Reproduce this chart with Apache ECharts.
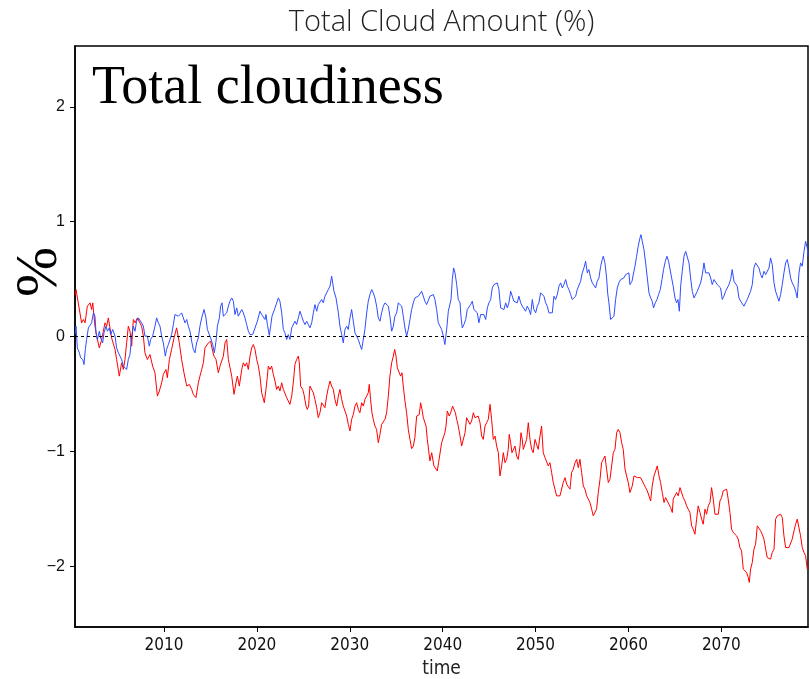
<!DOCTYPE html>
<html>
<head>
<meta charset="utf-8">
<script src="https://cdn.jsdelivr.net/npm/echarts@6/dist/echarts.min.js"></script>
<style>
html,body{margin:0;padding:0;background:#fff;}
#chart{width:810px;height:679px;}
</style>
</head>
<body>
<div id="chart"></div>
<script>
// ---- data: [year, anomaly %] ----
const titleText = 'Total Cloud Amount (%)';
const panelLabel = 'Total cloudiness';
const unitLabel = '%';
const xAxisName = 'time';
const xTicks = [2010, 2020, 2030, 2040, 2050, 2060, 2070];
const yTicks = [-2, -1, 0, 1, 2];

const redData = [
[2000.44,0.36],[2000.53,0.409],[2000.67,0.414],[2001.13,0.119],[2001.32,0.148],[2001.50,0.119],[2001.75,0.264],[2002.04,0.293],[2002.21,0.235],[2002.33,0.293],[2002.57,0.090],[2002.75,0.003],[2003.04,-0.099],[2003.29,-0.026],[2003.47,0.046],[2003.65,0.119],[2003.83,0.090],[2004.01,0.162],[2004.19,0.171],[2004.36,-0.012],[2004.73,-0.113],[2004.90,-0.200],[2005.19,-0.345],[2005.44,-0.229],[2005.63,-0.287],[2005.80,-0.200],[2005.98,-0.055],[2006.16,0.090],[2006.34,0.046],[2006.52,-0.084],[2006.70,0.148],[2006.88,0.119],[2007.14,0.162],[2007.35,0.148],[2007.59,0.090],[2007.78,0.003],[2007.95,-0.142],[2008.21,-0.200],[2008.49,-0.157],[2008.78,-0.258],[2009.03,-0.316],[2009.29,-0.519],[2009.50,-0.475],[2009.75,-0.403],[2009.93,-0.330],[2010.21,-0.287],[2010.36,-0.359],[2010.58,-0.200],[2010.82,-0.113],[2011.08,-0.012],[2011.36,0.075],[2011.65,-0.055],[2011.90,-0.200],[2012.15,-0.316],[2012.45,-0.432],[2012.73,-0.417],[2012.98,-0.461],[2013.16,-0.504],[2013.44,-0.533],[2013.70,-0.403],[2013.87,-0.345],[2014.06,-0.287],[2014.24,-0.229],[2014.41,-0.099],[2014.60,-0.113],[2014.78,-0.055],[2015.02,-0.041],[2015.24,-0.128],[2015.38,-0.171],[2015.60,-0.200],[2015.85,-0.316],[2016.03,-0.258],[2016.21,-0.214],[2016.39,-0.171],[2016.57,-0.055],[2016.75,-0.026],[2016.93,-0.200],[2017.10,-0.214],[2017.29,-0.345],[2017.54,-0.504],[2017.75,-0.403],[2017.90,-0.345],[2018.11,-0.432],[2018.37,-0.287],[2018.54,-0.229],[2018.72,-0.258],[2018.90,-0.229],[2019.08,-0.287],[2019.26,-0.171],[2019.44,-0.099],[2019.62,-0.070],[2019.80,-0.113],[2019.98,-0.200],[2020.16,-0.258],
[2020.33,-0.345],[2020.52,-0.490],[2020.69,-0.475],[2020.80,-0.577],[2020.98,-0.461],[2021.13,-0.345],[2021.23,-0.258],[2021.41,-0.287],[2021.59,-0.258],[2021.77,-0.330],[2021.95,-0.388],[2022.13,-0.461],[2022.31,-0.432],[2022.48,-0.475],[2022.67,-0.403],[2022.85,-0.461],[2023.02,-0.446],[2023.21,-0.533],[2023.38,-0.562],[2023.56,-0.591],[2023.75,-0.519],[2023.92,-0.403],[2024.10,-0.243],[2024.28,-0.200],[2024.46,-0.171],[2024.57,-0.229],[2024.71,-0.432],[2024.93,-0.461],[2025.07,-0.504],[2025.29,-0.606],[2025.43,-0.635],[2025.57,-0.606],[2025.71,-0.432],[2025.90,-0.446],[2026.08,-0.490],[2026.25,-0.548],[2026.44,-0.620],[2026.61,-0.707],[2026.79,-0.664],[2026.98,-0.577],[2027.15,-0.591],[2027.33,-0.620],[2027.51,-0.519],[2027.69,-0.446],[2027.87,-0.388],[2028.05,-0.432],[2028.23,-0.461],[2028.40,-0.548],[2028.59,-0.606],[2028.77,-0.519],[2028.94,-0.461],[2029.13,-0.548],[2029.30,-0.606],[2029.48,-0.620],[2029.67,-0.693],[2029.84,-0.765],[2030.02,-0.823],[2030.20,-0.722],[2030.38,-0.678],[2030.56,-0.606],[2030.74,-0.577],[2030.92,-0.635],[2031.09,-0.664],[2031.28,-0.577],[2031.46,-0.606],[2031.63,-0.548],[2031.82,-0.519],[2031.99,-0.490],[2032.10,-0.417],[2032.24,-0.548],[2032.39,-0.664],[2032.53,-0.722],[2032.71,-0.780],[2032.89,-0.809],[2033.07,-0.925],[2033.25,-0.852],[2033.43,-0.765],[2033.61,-0.751],[2033.79,-0.722],[2033.97,-0.664],[2034.15,-0.519],[2034.32,-0.345],[2034.51,-0.229],[2034.69,-0.171],[2034.83,-0.113],[2034.98,-0.171],[2035.12,-0.272],[2035.29,-0.258],[2035.47,-0.345],[2035.62,-0.316],[2035.76,-0.432],
[2035.94,-0.562],[2036.12,-0.664],[2036.30,-0.809],[2036.48,-0.896],[2036.66,-0.977],[2036.84,-0.954],[2037.01,-0.881],[2037.20,-0.693],[2037.38,-0.707],[2037.48,-0.680],[2037.63,-0.577],[2037.77,-0.635],[2037.92,-0.707],[2038.06,-0.693],[2038.21,-0.780],[2038.35,-0.896],[2038.49,-0.910],[2038.63,-1.084],[2038.82,-1.012],[2038.92,-1.026],[2039.06,-1.127],[2039.21,-1.113],[2039.42,-1.171],[2039.56,-1.099],[2039.71,-1.099],[2039.89,-0.925],[2040.07,-0.939],[2040.24,-0.838],
[2040.36,-0.780],[2040.50,-0.649],[2040.71,-0.693],[2040.86,-0.664],[2041.07,-0.606],[2041.21,-0.591],[2041.37,-0.664],[2041.51,-0.722],[2041.68,-0.780],[2041.87,-0.867],[2042.04,-0.954],[2042.22,-0.954],[2042.41,-0.838],[2042.58,-0.707],[2042.76,-0.722],[2042.94,-0.765],[2043.12,-0.736],[2043.30,-0.664],[2043.48,-0.707],[2043.66,-0.722],[2043.83,-0.693],[2044.02,-0.751],[2044.20,-0.867],[2044.37,-0.896],[2044.56,-0.780],[2044.73,-0.751],[2044.91,-0.722],[2045.10,-0.591],[2045.27,-0.722],[2045.45,-0.896],[2045.64,-0.867],[2045.81,-0.954],[2045.99,-1.012],[2046.17,-1.214],[2046.35,-1.127],[2046.53,-1.012],[2046.71,-1.099],[2046.89,-1.070],[2047.06,-0.983],[2047.17,-0.852],[2047.32,-0.925],[2047.46,-1.012],[2047.60,-1.012],[2047.79,-0.954],[2047.96,-1.041],[2048.14,-1.070],[2048.33,-0.954],[2048.43,-0.838],[2048.57,-0.896],[2048.68,-0.983],[2048.86,-0.983],[2049.04,-0.896],[2049.22,-0.751],[2049.40,-0.896],[2049.58,-0.983],[2049.75,-1.012],[2049.94,-0.896],[2050.12,-0.881],[2050.29,-0.983],[2050.48,-0.867],[2050.65,-0.780],[2050.83,-1.012],[2051.02,-1.055],[2051.19,-1.041],[2051.37,-1.127],[2051.55,-1.099],[2051.73,-1.185],[2051.91,-1.272],[2052.09,-1.330],[2052.27,-1.388],[2052.45,-1.403],[2052.63,-1.388],[2052.81,-1.374],[2052.98,-1.272],[2053.17,-1.229],[2053.35,-1.287],[2053.52,-1.301],[2053.71,-1.330],[2053.88,-1.185],[2054.06,-1.156],[2054.25,-1.099],[2054.42,-1.070],[2054.60,-1.142],[2054.78,-1.070],[2054.96,-1.185],[2055.14,-1.301],[2055.32,-1.330],[2055.50,-1.388],[2055.67,-1.388],[2055.86,-1.446],[2056.04,-1.504],[2056.21,-1.562],[2056.40,-1.577],[2056.57,-1.504],[2056.75,-1.359],[2056.94,-1.243],[2057.11,-1.099],[2057.29,-1.070],[2057.47,-1.041],[2057.65,-1.156],[2057.83,-1.272],[2058.01,-1.243],[2058.19,-1.127],[2058.37,-1.012],[2058.55,-0.983],[2058.73,-0.838],[2058.90,-0.809],[2059.09,-0.838],[2059.27,-0.925],[2059.44,-0.983],[2059.63,-1.156],[2059.80,-1.214],[2059.98,-1.272],[2060.16,-1.359],
[2060.24,-1.345],[2060.41,-1.301],[2060.60,-1.214],[2060.77,-1.200],[2060.95,-1.229],[2061.14,-1.214],[2061.31,-1.229],[2061.49,-1.214],[2061.67,-1.287],[2061.85,-1.316],[2062.03,-1.345],[2062.21,-1.359],[2062.39,-1.432],[2062.56,-1.301],[2062.75,-1.214],[2062.93,-1.171],[2063.10,-1.127],[2063.29,-1.214],[2063.46,-1.272],[2063.64,-1.359],[2063.83,-1.446],[2064.00,-1.403],[2064.18,-1.432],[2064.37,-1.446],[2064.54,-1.490],[2064.72,-1.533],[2064.82,-1.417],[2065.01,-1.403],[2065.18,-1.359],[2065.36,-1.388],[2065.55,-1.316],[2065.72,-1.301],[2065.90,-1.403],[2066.08,-1.432],[2066.26,-1.475],[2066.44,-1.504],[2066.62,-1.533],[2066.80,-1.649],[2066.97,-1.678],[2067.16,-1.722],[2067.34,-1.591],[2067.51,-1.475],[2067.70,-1.533],[2067.88,-1.591],[2068.05,-1.635],[2068.24,-1.504],[2068.41,-1.548],[2068.59,-1.475],[2068.78,-1.446],[2068.95,-1.316],[2069.13,-1.417],[2069.31,-1.548],[2069.49,-1.533],[2069.67,-1.548],[2069.85,-1.432],[2070.03,-1.403],[2070.20,-1.345],[2070.39,-1.330],[2070.57,-1.330],[2070.74,-1.417],[2070.93,-1.533],[2071.10,-1.678],[2071.28,-1.707],[2071.47,-1.693],[2071.64,-1.736],[2071.82,-1.765],[2072.00,-1.838],[2072.18,-1.867],[2072.36,-2.026],[2072.54,-2.012],[2072.72,-2.055],[2072.90,-2.099],[2073.01,-2.142],[2073.15,-2.026],[2073.33,-1.968],[2073.51,-1.852],[2073.69,-1.809],[2073.87,-1.649],[2074.05,-1.635],[2074.23,-1.693],[2074.40,-1.722],[2074.59,-1.765],[2074.77,-1.852],[2074.94,-1.925],[2075.13,-1.939],[2075.30,-1.939],[2075.48,-1.881],[2075.67,-1.852],[2075.84,-1.591],[2076.02,-1.562],[2076.20,-1.548],[2076.38,-1.548],[2076.56,-1.577],[2076.74,-1.736],[2076.92,-1.838],[2077.10,-1.852],[2077.28,-1.838],[2077.46,-1.823],[2077.63,-1.765],[2077.82,-1.693],[2078.00,-1.635],[2078.17,-1.591],[2078.36,-1.606],[2078.53,-1.736],[2078.71,-1.838],[2078.90,-1.881],[2079.07,-1.910],[2079.25,-2.026],[2079.33,-2.012]
];

const blueData = [
[2000.44,0.02],[2000.53,0.090],[2000.67,-0.099],[2000.89,-0.142],[2001.03,-0.186],[2001.25,-0.200],[2001.39,-0.244],[2001.53,-0.113],[2001.67,-0.026],[2001.86,0.075],[2002.04,0.061],[2002.21,0.119],[2002.40,0.206],[2002.57,0.177],[2002.68,0.032],[2002.83,-0.026],[2003.04,0.046],[2003.18,-0.012],[2003.40,-0.055],[2003.54,0.032],[2003.76,0.090],[2003.91,0.046],[2004.12,0.075],[2004.26,0.017],[2004.48,0.061],[2004.73,0.003],[2004.90,-0.099],[2005.09,-0.142],[2005.26,-0.128],[2005.44,-0.200],[2005.63,-0.258],[2005.80,-0.244],[2005.98,-0.287],[2006.16,-0.200],[2006.34,-0.157],[2006.52,0.003],[2006.70,0.090],[2006.88,0.046],[2007.05,0.133],[2007.24,0.162],[2007.42,0.148],[2007.59,0.119],[2007.78,0.090],[2007.95,0.003],[2008.21,0.003],[2008.42,-0.084],[2008.56,-0.026],[2008.78,0.003],[2009.03,0.090],[2009.21,0.162],[2009.39,0.119],[2009.57,0.090],[2009.75,0.003],[2009.93,-0.055],[2010.14,-0.171],[2010.28,-0.113],[2010.47,-0.070],[2010.65,-0.084],[2010.82,0.017],[2011.01,0.104],[2011.18,0.191],[2011.36,0.191],[2011.55,0.177],[2011.72,0.191],[2011.90,0.206],[2012.08,0.162],[2012.26,0.119],[2012.45,0.148],[2012.62,0.090],[2012.80,0.046],[2012.98,-0.041],[2013.16,-0.113],[2013.34,-0.142],[2013.51,-0.055],[2013.70,-0.012],[2013.87,0.090],[2014.06,0.162],[2014.31,0.235],[2014.52,0.162],[2014.67,0.061],[2014.88,0.046],[2015.02,-0.012],[2015.24,-0.070],[2015.42,-0.142],[2015.60,-0.041],[2015.75,0.090],[2015.96,0.162],[2016.10,0.264],[2016.25,0.293],[2016.39,0.177],[2016.57,0.191],[2016.75,0.206],[2016.93,0.264],[2017.10,0.307],[2017.29,0.336],[2017.47,0.307],[2017.64,0.191],[2017.83,0.249],[2018.00,0.177],[2018.18,0.162],[2018.37,0.235],[2018.54,0.206],[2018.72,0.162],[2018.90,0.104],[2019.08,0.046],[2019.26,0.017],[2019.55,0.017],[2019.80,0.075],[2020.05,0.133],[2020.33,0.220],
[2020.52,0.191],[2020.69,0.206],[2020.87,0.148],[2020.98,0.191],[2021.13,0.104],[2021.34,0.009],[2021.48,0.090],[2021.63,0.177],[2021.77,0.191],[2021.95,0.249],[2022.13,0.235],[2022.31,0.336],[2022.48,0.307],[2022.67,0.206],[2022.85,0.061],[2023.02,0.032],[2023.21,-0.026],[2023.38,0.017],[2023.56,-0.026],[2023.75,0.075],[2023.92,0.061],[2024.10,0.133],[2024.28,0.104],[2024.46,0.162],[2024.64,0.220],[2024.82,0.177],[2025.00,0.133],[2025.18,0.104],[2025.36,0.133],[2025.54,0.104],[2025.71,0.075],[2025.90,0.119],[2026.08,0.206],[2026.25,0.278],[2026.44,0.220],[2026.61,0.278],[2026.79,0.293],[2026.98,0.322],[2027.15,0.293],[2027.33,0.351],[2027.51,0.365],[2027.69,0.409],[2027.87,0.438],[2028.05,0.525],[2028.16,0.530],[2028.30,0.394],[2028.52,0.336],[2028.66,0.264],[2028.77,0.206],[2028.94,0.090],[2029.13,0.017],[2029.30,-0.055],[2029.48,0.061],[2029.67,0.090],[2029.84,0.061],[2030.02,0.162],[2030.20,0.235],[2030.38,0.133],[2030.56,0.032],[2030.74,0.046],[2030.92,-0.026],[2031.09,-0.070],[2031.28,-0.113],[2031.46,-0.113],[2031.63,0.061],[2031.82,0.206],[2031.99,0.307],[2032.17,0.365],[2032.36,0.409],[2032.53,0.380],[2032.71,0.336],[2032.89,0.264],[2033.07,0.162],[2033.25,0.133],[2033.43,0.206],[2033.61,0.264],[2033.79,0.293],[2033.97,0.307],[2034.15,0.264],[2034.32,0.177],[2034.51,0.046],[2034.69,0.090],[2034.86,0.177],[2035.05,0.206],[2035.22,0.293],[2035.40,0.307],[2035.59,0.264],[2035.76,0.177],[2035.94,0.075],[2036.12,0.003],[2036.30,0.061],[2036.48,0.148],[2036.66,0.235],[2036.84,0.293],[2037.01,0.336],[2037.20,0.322],[2037.38,0.351],[2037.55,0.365],[2037.74,0.394],[2037.91,0.380],[2038.09,0.307],[2038.28,0.278],[2038.45,0.293],[2038.63,0.351],[2038.82,0.336],[2038.99,0.365],[2039.17,0.322],[2039.35,0.235],[2039.53,0.119],[2039.71,0.133],[2039.89,0.061],[2040.07,0.003],[2040.24,-0.070],[2040.43,0.061],[2040.61,0.220],[2040.79,0.235],
[2040.90,0.322],[2041.04,0.496],[2041.18,0.597],[2041.33,0.554],[2041.51,0.452],[2041.68,0.322],[2041.87,0.293],[2041.97,0.177],[2042.11,0.075],[2042.29,0.104],[2042.48,0.148],[2042.65,0.235],[2042.83,0.220],[2043.01,0.278],[2043.19,0.307],[2043.37,0.235],[2043.55,0.249],[2043.73,0.206],[2043.90,0.119],[2044.09,0.191],[2044.27,0.177],[2044.44,0.191],[2044.63,0.148],[2044.81,0.249],[2044.98,0.293],[2045.17,0.322],[2045.34,0.423],[2045.52,0.452],[2045.71,0.438],[2045.88,0.467],[2046.06,0.409],[2046.24,0.249],[2046.42,0.235],[2046.60,0.235],[2046.78,0.293],[2046.96,0.249],[2047.13,0.293],[2047.32,0.394],[2047.50,0.409],[2047.67,0.307],[2047.86,0.293],[2048.03,0.293],[2048.21,0.351],[2048.40,0.293],[2048.57,0.264],[2048.75,0.249],[2048.93,0.220],[2049.11,0.264],[2049.29,0.235],[2049.47,0.191],[2049.65,0.322],[2049.82,0.235],[2050.01,0.206],[2050.19,0.264],[2050.36,0.293],[2050.55,0.380],[2050.72,0.394],[2050.90,0.351],[2051.09,0.293],[2051.26,0.264],[2051.44,0.206],[2051.63,0.191],[2051.80,0.206],[2051.98,0.351],[2052.16,0.322],[2052.34,0.365],[2052.52,0.438],[2052.70,0.467],[2052.88,0.423],[2053.05,0.452],[2053.24,0.496],[2053.42,0.438],[2053.59,0.409],[2053.78,0.365],[2053.95,0.322],[2054.13,0.307],[2054.32,0.351],[2054.49,0.409],[2054.67,0.409],[2054.85,0.481],[2055.03,0.554],[2055.21,0.597],[2055.39,0.655],[2055.57,0.554],[2055.74,0.583],[2055.93,0.510],[2056.11,0.467],[2056.28,0.452],[2056.47,0.423],[2056.64,0.481],[2056.82,0.510],[2057.01,0.612],[2057.18,0.670],[2057.29,0.699],[2057.47,0.641],[2057.65,0.510],[2057.76,0.380],[2057.90,0.293],[2058.08,0.148],[2058.26,0.133],[2058.44,0.177],[2058.62,0.322],[2058.80,0.423],[2058.97,0.467],[2059.16,0.496],[2059.34,0.481],[2059.51,0.510],[2059.70,0.539],[2059.87,0.554],[2060.05,0.554],[2060.16,0.452],
[2060.38,0.481],[2060.52,0.467],[2060.70,0.612],[2060.88,0.699],[2061.05,0.786],[2061.24,0.858],[2061.35,0.887],[2061.49,0.829],[2061.67,0.756],[2061.85,0.641],[2062.03,0.510],[2062.21,0.380],[2062.39,0.336],[2062.56,0.307],[2062.70,0.249],[2062.89,0.293],[2063.07,0.322],[2063.24,0.365],[2063.43,0.409],[2063.61,0.496],[2063.78,0.583],[2063.97,0.655],[2064.14,0.699],[2064.32,0.655],[2064.47,0.670],[2064.65,0.510],[2064.82,0.438],[2065.01,0.336],[2065.18,0.293],[2065.33,0.322],[2065.48,0.220],[2065.62,0.438],[2065.79,0.568],[2065.98,0.699],[2066.16,0.742],[2066.33,0.727],[2066.52,0.641],[2066.69,0.510],[2066.87,0.394],[2067.06,0.336],[2067.23,0.351],[2067.41,0.394],[2067.59,0.409],[2067.77,0.467],[2067.95,0.539],[2068.13,0.641],[2068.31,0.554],[2068.48,0.568],[2068.67,0.554],[2068.85,0.510],[2069.02,0.452],[2069.21,0.496],[2069.38,0.481],[2069.56,0.452],[2069.75,0.438],[2069.92,0.423],[2070.10,0.322],[2070.28,0.351],[2070.46,0.394],[2070.64,0.380],[2070.82,0.452],[2071.00,0.496],[2071.17,0.583],[2071.36,0.481],[2071.54,0.481],[2071.71,0.438],[2071.90,0.336],[2072.08,0.307],[2072.25,0.293],[2072.44,0.264],[2072.61,0.293],[2072.79,0.322],[2072.98,0.336],[2073.15,0.394],[2073.33,0.452],[2073.51,0.597],[2073.69,0.641],[2073.87,0.641],[2074.05,0.597],[2074.23,0.539],[2074.40,0.510],[2074.59,0.568],[2074.77,0.539],[2074.94,0.554],[2075.13,0.597],[2075.30,0.684],[2075.48,0.626],[2075.67,0.467],[2075.84,0.394],[2076.02,0.351],[2076.20,0.307],[2076.38,0.365],[2076.56,0.452],[2076.74,0.554],[2076.92,0.641],[2077.10,0.670],[2077.28,0.597],[2077.46,0.510],[2077.63,0.467],[2077.82,0.438],[2078.00,0.394],[2078.17,0.336],[2078.36,0.554],[2078.53,0.641],[2078.71,0.612],[2078.90,0.742],[2079.07,0.829],[2079.25,0.771],[2079.33,0.699]
];

const xMin = 2000.42, xMax = 2079.33;
const yMin = -2.53, yMax = 2.53;

const chart = echarts.init(document.getElementById('chart'), null, {renderer: 'canvas'});
const hershey = "'Liberation Sans Narrow', 'DejaVu Sans Condensed', sans-serif";
chart.setOption({
  animation: false,
  backgroundColor: '#ffffff',
  grid: {left: 75, right: 2, top: 46, bottom: 52, outerBoundsMode: 'none', containLabel: false,
         show: true, borderColor: '#000', borderWidth: 1.5, backgroundColor: 'transparent'},
  xAxis: {
    type: 'value', min: xMin, max: xMax,
    name: xAxisName, nameLocation: 'middle', nameGap: 33,
    nameTextStyle: {fontFamily: hershey, fontSize: 19, color: '#222'},
    axisLine: {show: true, onZero: false, lineStyle: {color: '#000', width: 1.5}},
    axisTick: {show: true, inside: false, length: 5, customValues: xTicks, lineStyle: {color: '#000', width: 1}},
    axisLabel: {customValues: xTicks, margin: 10, fontFamily: hershey, fontSize: 17, color: '#111',
      formatter: v => String(v)},
    splitLine: {show: false}
  },
  yAxis: {
    type: 'value', min: yMin, max: yMax,
    axisLine: {show: true, onZero: false, lineStyle: {color: '#000', width: 1.5}},
    axisTick: {show: true, inside: false, length: 5, customValues: yTicks, lineStyle: {color: '#000', width: 1}},
    axisLabel: {customValues: yTicks, margin: 10, fontFamily: 'Liberation Sans', fontSize: 16, color: '#111',
      formatter: v => String(v).replace('-', '\u2212')},
    splitLine: {show: false}
  },
  graphic: [
    {type: 'text', x: 441.5, y: 23,
     style: {text: titleText, font: '300 29px "Open Sans", sans-serif', fill: '#222', align: 'center', verticalAlign: 'middle'}},
    {type: 'text', x: 92, y: 62, style: {text: panelLabel, font: '54px "Liberation Serif", serif', fill: '#000'}},
    {type: 'text', x: 40, y: 272, rotation: Math.PI / 2,
     style: {text: unitLabel, font: '60px "Liberation Serif", serif', fill: '#000', align: 'center', verticalAlign: 'middle'}}
  ],
  series: [
    {type: 'line', name: 'red', data: redData, showSymbol: false, symbol: 'none',
     lineStyle: {color: '#ff0000', width: 1}, z: 3},
    {type: 'line', name: 'blue', data: blueData, showSymbol: false, symbol: 'none',
     lineStyle: {color: '#2e4dff', width: 1}, z: 4,
     markLine: {silent: true, symbol: 'none', label: {show: false},
       lineStyle: {color: '#000', width: 1, type: [3, 3]}, data: [{yAxis: 0}]}}
  ]
});
</script>
</body>
</html>
